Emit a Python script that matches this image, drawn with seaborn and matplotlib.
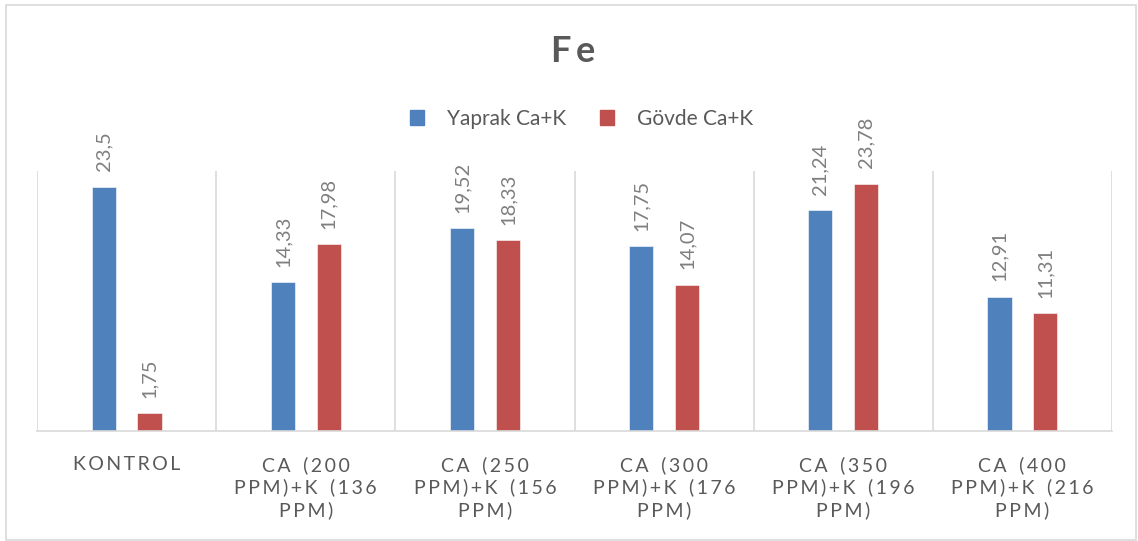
import matplotlib
matplotlib.use("Agg")
import matplotlib.pyplot as plt
from matplotlib.patches import Rectangle
import seaborn as sns
import pandas as pd

categories = [
    "KONTROL",
    "CA (200\nPPM)+K (136\nPPM)",
    "CA (250\nPPM)+K (156\nPPM)",
    "CA (300\nPPM)+K (176\nPPM)",
    "CA (350\nPPM)+K (196\nPPM)",
    "CA (400\nPPM)+K (216\nPPM)",
]
series_names = ["Yaprak Ca+K", "Gövde Ca+K"]
yaprak = [23.5, 14.33, 19.52, 17.75, 21.24, 12.91]
govde = [1.75, 17.98, 18.33, 14.07, 23.78, 11.31]
colors = ["#4F81BD", "#C0504D"]

sns.set_theme(style="white")
plt.rcParams["font.family"] = ["Lato", "DejaVu Sans"]

df = pd.DataFrame({
    "kategori": categories * 2,
    "seri": [series_names[0]] * len(categories) + [series_names[1]] * len(categories),
    "deger": yaprak + govde,
})

fig = plt.figure(figsize=(11.38, 5.41), dpi=100)
ax = fig.add_axes([37 / 1138, 1 - 431 / 541, (1112 - 37) / 1138, (431 - 171) / 541])

sns.barplot(data=df, x="kategori", y="deger", hue="seri", order=categories,
            hue_order=series_names, palette=colors, width=0.512, gap=0.475,
            saturation=1, errorbar=None, legend=False, ax=ax)

for cont, vals in zip(ax.containers, [yaprak, govde]):
    for bar in cont:
        bar.set_edgecolor("white")
        bar.set_linewidth(0.4)
    ax.bar_label(cont, labels=[f"{v:g}".replace(".", ",") for v in vals],
                 rotation=90, padding=11, fontsize=14.5, color="#7F7F7F")

ax.set_ylim(0, 25)
ax.set_xlim(-0.5, len(categories) - 0.5)
ax.set_yticks([])
ax.set_xlabel("")
ax.set_ylabel("")

# vertical separators between categories
for i in range(len(categories) + 1):
    ax.axvline(i - 0.5, color="#D9D9D9", lw=1.2, zorder=0)

for side in ["top", "left", "right"]:
    ax.spines[side].set_visible(False)
ax.spines["bottom"].set_color("#D9D9D9")
ax.spines["bottom"].set_linewidth(1.2)

def spaced(label):
    # widen the tracking of the category names
    lines = []
    for line in label.split("\n"):
        lines.append("\u2009".join(line.replace(" ", "\u2009\u2009")))
    return "\n".join(lines)

ax.set_xticks(range(len(categories)))
ax.set_xticklabels([spaced(c) for c in categories], fontsize=14,
                   color="#595959", linespacing=1.3)
ax.tick_params(axis="x", length=0, pad=18)

fig.text(0.504, 1 - 52 / 541, "F\u2009e", ha="center", va="center",
         fontsize=26, fontweight="bold", color="#595959")

handles = [Rectangle((0, 0), 1, 1, color=c) for c in colors]
fig.legend(handles, series_names, loc="center", bbox_to_anchor=(0.511, 1 - 119 / 541),
           ncol=2, frameon=False, fontsize=15, handlelength=0.7, handleheight=0.7,
           handletextpad=1.1, columnspacing=1.6, labelcolor="#595959")

fig.patches.append(Rectangle((6 / 1138, 1 / 541), 1130 / 1138, 535 / 541,
                             transform=fig.transFigure, fill=False,
                             edgecolor="#D9D9D9", lw=1.2))

fig.savefig("out.png", dpi=100, facecolor="white")
